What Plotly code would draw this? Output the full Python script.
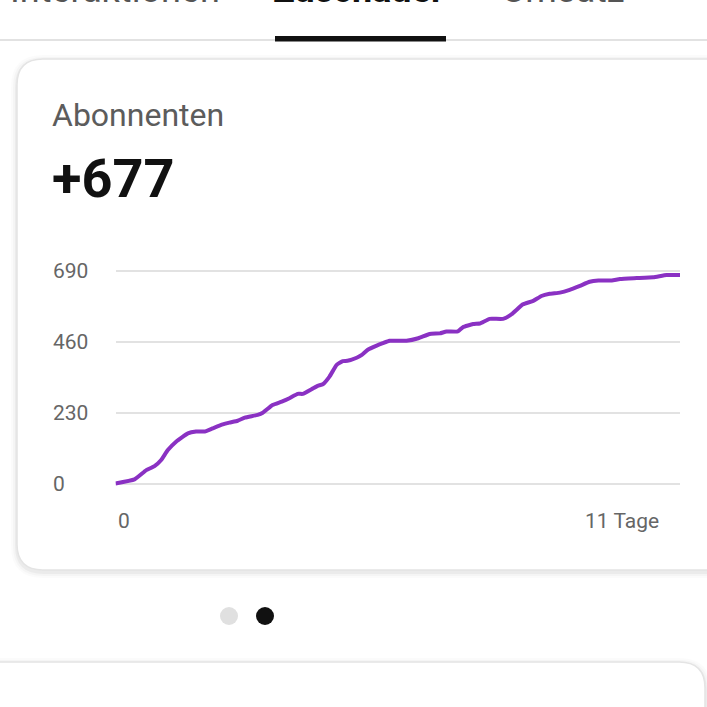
import plotly.graph_objects as go

# ---------------- data ----------------
days = [0.00, 0.37, 0.60, 0.76, 0.89, 1.02, 1.18, 1.41, 1.57, 1.74, 1.89, 2.09, 2.22, 2.38,
        2.52, 2.77, 2.87, 3.06, 3.24, 3.39, 3.55, 3.65, 3.82, 3.94, 4.04, 4.17, 4.31, 4.43,
        4.52, 4.70, 4.80, 4.91, 5.09, 5.21, 5.34, 5.67, 5.90, 6.12, 6.32, 6.45, 6.67, 6.77,
        6.97, 7.10, 7.29, 7.55, 7.72, 7.94, 8.14, 8.30, 8.46, 8.66, 8.85, 9.05, 9.24, 9.41,
        9.67, 9.83, 10.16, 10.48, 10.74, 11.00]
subscribers = [2, 15, 45, 58, 78, 110, 137, 164, 170, 170, 180, 193, 199, 205,
               215, 224, 231, 256, 267, 278, 292, 292, 307, 318, 323, 348, 386, 398,
               399, 409, 418, 434, 448, 456, 464, 464, 472, 486, 488, 494, 494, 508,
               518, 520, 535, 535, 550, 582, 593, 609, 616, 620, 629, 642, 655, 659,
               659, 664, 667, 670, 677, 677]
y_ticks = [0, 230, 460, 690]
y_tick_labels = ["0", "230", "460", "690"]
x_tick_labels = ["0", "11 Tage"]
card_title = "Abonnenten"
card_value = "+677"
tabs = ["Interaktionen", "Zuschauer", "Umsatz"]

W = H = 707
FONT = "Roboto"
LINE_COLOR = "#8A31C3"


def px(x):
    return x / W


def py(y):
    return 1 - y / H


def rounded_path(x0, y0, x1, y1, r):
    # pixel coords (top-left origin) -> paper path
    pts = [
        ("M", (x0 + r, y0)),
        ("L", (x1 - r, y0)), ("Q", (x1, y0), (x1, y0 + r)),
        ("L", (x1, y1 - r)), ("Q", (x1, y1), (x1 - r, y1)),
        ("L", (x0 + r, y1)), ("Q", (x0, y1), (x0, y1 - r)),
        ("L", (x0, y0 + r)), ("Q", (x0, y0), (x0 + r, y0)),
    ]
    s = ""
    for p in pts:
        cmd = p[0]
        coords = " ".join(f"{px(a):.5f},{py(b):.5f}" for a, b in p[1:])
        s += f"{cmd} {coords} "
    return s + "Z"


fig = go.Figure()
fig.add_trace(go.Scatter(
    x=days, y=subscribers, mode="lines",
    line=dict(color=LINE_COLOR, width=4, shape="spline", smoothing=0.4),
    hoverinfo="skip", showlegend=False,
))

shapes = []
# card shadows
for d, op in [(6, 0.015), (4, 0.025), (2, 0.04)]:
    shapes.append(dict(type="path", xref="paper", yref="paper", layer="below",
                       path=rounded_path(17 - d, 59 - d + 2, 760 + d, 570 + d + 2, 26 + d),
                       fillcolor=f"rgba(0,0,0,{op})", line=dict(width=0)))
    shapes.append(dict(type="path", xref="paper", yref="paper", layer="below",
                       path=rounded_path(-60 - d, 662 - d + 2, 705 + d, 800, 26 + d),
                       fillcolor=f"rgba(0,0,0,{op})", line=dict(width=0)))
# cards
shapes.append(dict(type="path", xref="paper", yref="paper", layer="below",
                   path=rounded_path(17, 59, 760, 570, 26),
                   fillcolor="white", line=dict(color="#e4e4e4", width=1.5)))
shapes.append(dict(type="path", xref="paper", yref="paper", layer="below",
                   path=rounded_path(-60, 662, 705, 800, 26),
                   fillcolor="white", line=dict(color="#e4e4e4", width=1.5)))
# tab divider + active indicator
shapes.append(dict(type="line", xref="paper", yref="paper", x0=0, x1=1, y0=py(40), y1=py(40),
                   line=dict(color="#e2e2e2", width=2), layer="below"))
shapes.append(dict(type="rect", xref="paper", yref="paper", x0=px(275), x1=px(446),
                   y0=py(41.5), y1=py(36), fillcolor="#111111", line=dict(width=0)))
# pagination dots
for cx, col in [(229, "#e0e0e0"), (265, "#111111")]:
    shapes.append(dict(type="circle", xref="paper", yref="paper",
                       x0=px(cx - 9), x1=px(cx + 9), y0=py(625), y1=py(607),
                       fillcolor=col, line=dict(width=0)))

annotations = []
# tabs (cut off at the top, as in the reference screenshot)
for label, cx, col, bold in [(tabs[0], 115, "#555555", False), (tabs[1], 358, "#111111", True),
                             (tabs[2], 563, "#555555", False)]:
    annotations.append(dict(xref="paper", yref="paper", x=px(cx), y=py(13), xanchor="center",
                            yanchor="bottom", showarrow=False,
                            text=f"<b>{label}</b>" if bold else label,
                            font=dict(family=FONT, size=36, color=col)))
annotations.append(dict(xref="paper", yref="paper", x=px(50), y=py(115), xanchor="left",
                        yanchor="middle", showarrow=False, text=card_title,
                        font=dict(family=FONT, size=32, color="#5c5c5c")))
annotations.append(dict(xref="paper", yref="paper", x=px(50), y=py(179), xanchor="left",
                        yanchor="middle", showarrow=False, text=f"<b>{card_value}</b>",
                        font=dict(family=FONT, size=54, color="#111111")))
# y tick labels (left aligned)
for v, t in zip(y_ticks, y_tick_labels):
    annotations.append(dict(xref="paper", yref="y", x=px(51), y=v, xanchor="left",
                            yanchor="middle", showarrow=False, text=t,
                            font=dict(family=FONT, size=21, color="#666666")))
# x tick labels
annotations.append(dict(xref="x", yref="paper", x=days[0], y=py(521), xanchor="left",
                        yanchor="middle", showarrow=False, text=x_tick_labels[0],
                        font=dict(family=FONT, size=21, color="#666666")))
annotations.append(dict(xref="x", yref="paper", x=days[-1], xshift=-19, y=py(521), xanchor="right",
                        yanchor="middle", showarrow=False, text=x_tick_labels[1],
                        font=dict(family=FONT, size=21, color="#666666")))

fig.update_layout(
    width=W, height=H,
    margin=dict(l=0, r=0, t=0, b=0, pad=0),
    paper_bgcolor="white", plot_bgcolor="rgba(0,0,0,0)",
    shapes=shapes, annotations=annotations,
    xaxis=dict(domain=[px(115.5), px(680)], range=[0, 11], showgrid=False, zeroline=False,
               showticklabels=False, showline=False, fixedrange=True),
    yaxis=dict(domain=[py(490.2), py(264.8)], range=[-20, 710], tickvals=y_ticks,
               showgrid=True, gridcolor="#e2e2e2", gridwidth=2, zeroline=False,
               showticklabels=False, showline=False, fixedrange=True),
    font=dict(family=FONT),
)

fig.write_html("out.html", config={"displayModeBar": False},
               post_script="document.body.style.margin='0';document.body.style.overflow='hidden';")
